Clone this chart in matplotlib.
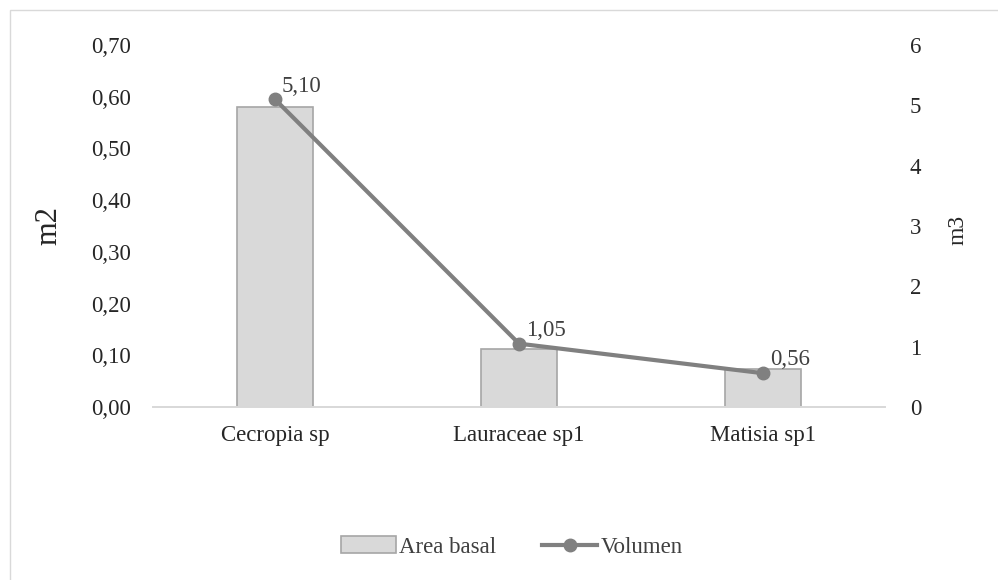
import matplotlib.pyplot as plt
from matplotlib.patches import Rectangle
from matplotlib.lines import Line2D
from matplotlib.patches import Patch

# ========================== Data ============================== #
species = ["Cecropia sp", "Lauraceae sp1", "Matisia sp1"]
area_basal = [0.58, 0.112, 0.074]
volumen = [5.10, 1.05, 0.56]
volumen_labels = ["5,10", "1,05", "0,56"]

left_ticks = [0.0, 0.1, 0.2, 0.3, 0.4, 0.5, 0.6, 0.7]
right_ticks = [0, 1, 2, 3, 4, 5, 6]

plt.rcParams["font.family"] = ["Liberation Serif", "DejaVu Serif"]

bar_color = "#d9d9d9"
bar_edge = "#a6a6a6"
line_color = "#808080"
text_color = "#262626"
fs = 16.5

fig = plt.figure(figsize=(9.98, 5.80), dpi=100)
ax1 = fig.add_axes([153 / 998, 1 - 407 / 580, (885 - 153) / 998, (407 - 45) / 580])

# light frame round the chart area
fig.patches.append(
    Rectangle((10 / 998, -0.01), 1.0, 1 - 10 / 580 + 0.01, transform=fig.transFigure,
              fill=False, edgecolor="#d9d9d9", linewidth=1.0)
)

x = list(range(len(species)))
ax1.bar(x, area_basal, width=0.31, color=bar_color, edgecolor=bar_edge, linewidth=1.2, zorder=2)
ax1.set_xlim(-0.5, len(species) - 0.5)
ax1.set_ylim(0, 0.7)
ax1.set_yticks(left_ticks)
ax1.set_yticklabels([f"{v:.2f}".replace(".", ",") for v in left_ticks])
ax1.set_xticks(x)
ax1.set_xticklabels(species)
ax1.set_ylabel("m2", fontsize=22, color=text_color)
ax1.yaxis.set_label_coords(-0.122, 0.5)

ax2 = ax1.twinx()
ax2.plot(x, volumen, "-o", color=line_color, linewidth=3, markersize=9, zorder=3)
ax2.set_ylim(0, 6)
ax2.set_yticks(right_ticks)
ax2.set_ylabel("m3", fontsize=17, color=text_color)
ax2.yaxis.set_label_coords(1.086, 0.49)

for xi, v, lab in zip(x, volumen, volumen_labels):
    ax2.annotate(lab, (xi, v), xytext=(5, 2), textcoords="offset points",
                 ha="left", va="bottom", fontsize=fs, color="#404040")

for ax in (ax1, ax2):
    for side in ("top", "left", "right"):
        ax.spines[side].set_visible(False)
    ax.spines["bottom"].set_color("#d9d9d9")
    ax.spines["bottom"].set_linewidth(1.3)
    ax.tick_params(length=0, labelsize=fs, labelcolor=text_color)
ax1.tick_params(axis="y", pad=16)
ax1.tick_params(axis="x", pad=13)
ax2.tick_params(axis="y", pad=18)

handles = [
    Patch(facecolor=bar_color, edgecolor=bar_edge, linewidth=1.2),
    Line2D([0], [0], color=line_color, linewidth=3, marker="o", markersize=9),
]
fig.legend(handles, ["Area basal", "Volumen"], loc="center", bbox_to_anchor=(512 / 998, 1 - 547 / 580),
           ncol=2, frameon=False, fontsize=fs, labelcolor="#404040",
           handlelength=2.4, handletextpad=0.15, columnspacing=2.0)

plt.savefig("out.png", dpi=100)
plt.close()
